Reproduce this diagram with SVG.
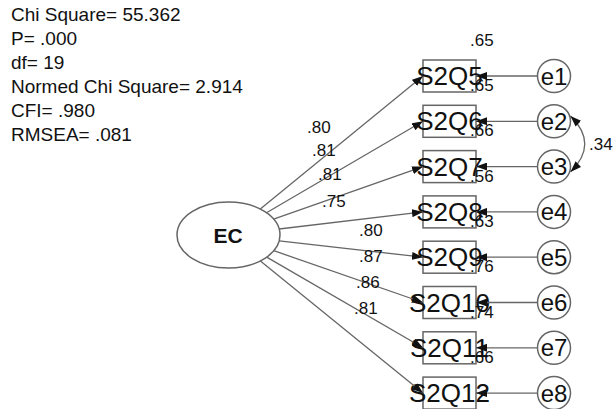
<svg xmlns="http://www.w3.org/2000/svg" width="616" height="409" viewBox="0 0 616 409">
<style>
text{font-family:"Liberation Sans",Arial,sans-serif;fill:#111}
.st{font-size:19px}
.lb{font-size:17px}
.bx{font-size:26px;text-anchor:middle}
.el{font-size:24px;text-anchor:middle}
.box{fill:#fff;stroke:#666;stroke-width:1.5}
.circ{fill:#fff;stroke:#666;stroke-width:1.5}
.ln{fill:none;stroke:#666;stroke-width:1.3}
</style>
<defs>
<marker id="ah" viewBox="0 0 11 8" refX="11" refY="4" markerWidth="11" markerHeight="8" markerUnits="userSpaceOnUse" orient="auto-start-reverse">
<path d="M0,0 L11,4 L0,8 z" fill="#111"/>
</marker>
</defs>
<rect width="616" height="409" fill="#fff"/>
<g id="stats">
<text class="st" x="11" y="21">Chi Square= 55.362</text>
<text class="st" x="11" y="45">P= .000</text>
<text class="st" x="11" y="69">df= 19</text>
<text class="st" x="11" y="93">Normed Chi Square= 2.914</text>
<text class="st" x="11" y="117">CFI= .980</text>
<text class="st" x="11" y="141">RMSEA= .081</text>
</g>
<g id="EC">
<ellipse cx="228.5" cy="235" rx="51.5" ry="33" class="circ"/>
<text x="228" y="243" style="font-size:21px;font-weight:bold;text-anchor:middle">EC</text>
</g>
<g id="S2Q5"><rect class="box" x="423" y="60" width="53" height="32"/><text class="bx" x="449.5" y="85">S2Q5</text></g>
<g id="S2Q6"><rect class="box" x="423" y="105.3" width="53" height="32"/><text class="bx" x="449.5" y="130.3">S2Q6</text></g>
<g id="S2Q7"><rect class="box" x="423" y="150.6" width="53" height="32"/><text class="bx" x="449.5" y="175.6">S2Q7</text></g>
<g id="S2Q8"><rect class="box" x="423" y="195.9" width="53" height="32"/><text class="bx" x="449.5" y="220.9">S2Q8</text></g>
<g id="S2Q9"><rect class="box" x="423" y="241.2" width="53" height="32"/><text class="bx" x="449.5" y="266.2">S2Q9</text></g>
<g id="S2Q10"><rect class="box" x="423" y="286.5" width="53" height="32"/><text class="bx" x="449.5" y="311.5">S2Q10</text></g>
<g id="S2Q11"><rect class="box" x="423" y="331.8" width="53" height="32"/><text class="bx" x="449.5" y="356.8">S2Q11</text></g>
<g id="S2Q12"><rect class="box" x="423" y="377.1" width="53" height="32"/><text class="bx" x="449.5" y="402.1">S2Q12</text></g>
<g id="e1"><circle class="circ" cx="554" cy="76" r="16.5"/><text class="el" x="554" y="84.5">e1</text></g>
<g id="e2"><circle class="circ" cx="554" cy="121.3" r="16.5"/><text class="el" x="554" y="129.8">e2</text></g>
<g id="e3"><circle class="circ" cx="554" cy="166.6" r="16.5"/><text class="el" x="554" y="175.1">e3</text></g>
<g id="e4"><circle class="circ" cx="554" cy="211.9" r="16.5"/><text class="el" x="554" y="220.4">e4</text></g>
<g id="e5"><circle class="circ" cx="554" cy="257.2" r="16.5"/><text class="el" x="554" y="265.7">e5</text></g>
<g id="e6"><circle class="circ" cx="554" cy="302.5" r="16.5"/><text class="el" x="554" y="311">e6</text></g>
<g id="e7"><circle class="circ" cx="554" cy="347.8" r="16.5"/><text class="el" x="554" y="356.3">e7</text></g>
<g id="e8"><circle class="circ" cx="554" cy="393.1" r="16.5"/><text class="el" x="554" y="401.6">e8</text></g>
<g id="connectors">
<line class="ln" x1="260.3" y1="209" x2="423" y2="76" marker-end="url(#ah)"/>
<line class="ln" x1="266.5" y1="212.8" x2="423" y2="121.3" marker-end="url(#ah)"/>
<line class="ln" x1="273.6" y1="219.1" x2="423" y2="166.6" marker-end="url(#ah)"/>
<line class="ln" x1="279.1" y1="229" x2="423" y2="211.9" marker-end="url(#ah)"/>
<line class="ln" x1="279.2" y1="240.8" x2="423" y2="257.2" marker-end="url(#ah)"/>
<line class="ln" x1="273.8" y1="250.7" x2="423" y2="302.5" marker-end="url(#ah)"/>
<line class="ln" x1="266.7" y1="257.1" x2="423" y2="347.8" marker-end="url(#ah)"/>
<line class="ln" x1="260.4" y1="260.9" x2="423" y2="393.1" marker-end="url(#ah)"/>
<line class="ln" x1="537.5" y1="76" x2="476" y2="76" marker-end="url(#ah)"/>
<line class="ln" x1="537.5" y1="121.3" x2="476" y2="121.3" marker-end="url(#ah)"/>
<line class="ln" x1="537.5" y1="166.6" x2="476" y2="166.6" marker-end="url(#ah)"/>
<line class="ln" x1="537.5" y1="211.9" x2="476" y2="211.9" marker-end="url(#ah)"/>
<line class="ln" x1="537.5" y1="257.2" x2="476" y2="257.2" marker-end="url(#ah)"/>
<line class="ln" x1="537.5" y1="302.5" x2="476" y2="302.5" marker-end="url(#ah)"/>
<line class="ln" x1="537.5" y1="347.8" x2="476" y2="347.8" marker-end="url(#ah)"/>
<line class="ln" x1="537.5" y1="393.1" x2="476" y2="393.1" marker-end="url(#ah)"/>
<path class="ln" d="M570.5,116 Q599,143.9 570.5,171.9" marker-start="url(#ah)" marker-end="url(#ah)"/>
</g>
<g id="labels">
<text class="lb" x="307" y="133">.80</text>
<text class="lb" x="312" y="156">.81</text>
<text class="lb" x="318" y="180">.81</text>
<text class="lb" x="322" y="207">.75</text>
<text class="lb" x="359" y="236">.80</text>
<text class="lb" x="359" y="262">.87</text>
<text class="lb" x="356" y="288">.86</text>
<text class="lb" x="354" y="314">.81</text>
<text class="lb" x="470" y="46">.65</text>
<text class="lb" x="470" y="91">.65</text>
<text class="lb" x="470" y="136.3">.66</text>
<text class="lb" x="470" y="181.6">.56</text>
<text class="lb" x="470" y="226.9">.63</text>
<text class="lb" x="470" y="272.2">.76</text>
<text class="lb" x="470" y="317.5">.74</text>
<text class="lb" x="470" y="362.8">.66</text>
<text class="lb" x="589" y="150">.34</text>
</g>
</svg>
